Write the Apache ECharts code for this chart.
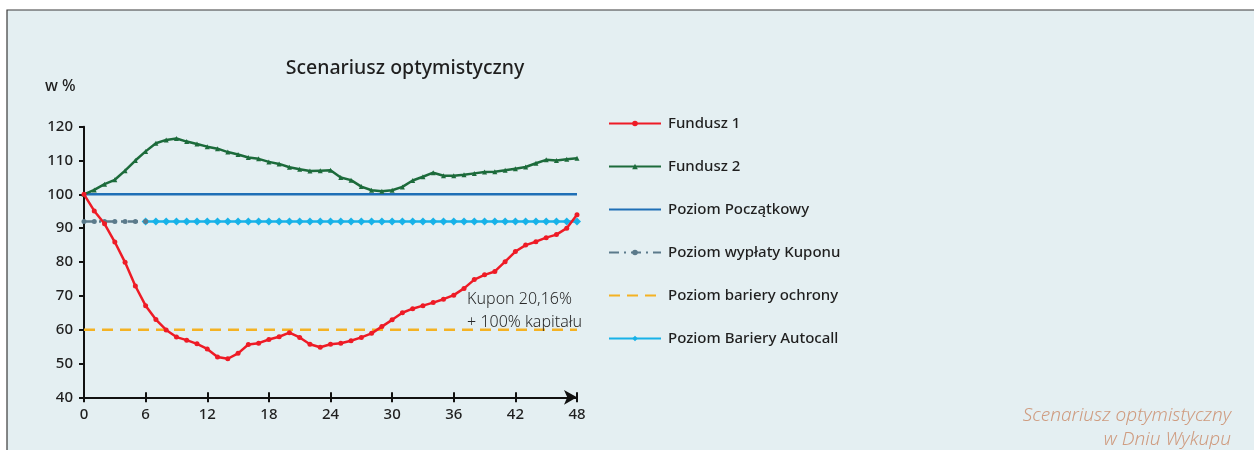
<!DOCTYPE html>
<html>
<head>
<meta charset="utf-8">
<script src="https://cdn.jsdelivr.net/npm/echarts@6/dist/echarts.min.js"></script>
<style>
html,body{margin:0;padding:0;background:#ffffff;}
#chart{width:1254px;height:450px;}
</style>
</head>
<body>
<div id="chart"></div>
<script>
const months = Array.from({length: 49}, (_, i) => i);
const xTicks = [0, 6, 12, 18, 24, 30, 36, 42, 48];
const yTicks = [40, 50, 60, 70, 80, 90, 100, 110, 120];

const fundusz1 = [100, 95.1, 91.3, 85.9, 79.9, 72.9, 67.1, 63.0, 59.9, 57.8, 56.9, 55.8, 54.3, 51.9, 51.4, 53.0,
  55.6, 56.0, 57.1, 57.9, 59.1, 57.7, 55.7, 54.8, 55.7, 56.0, 56.7, 57.7, 58.9, 60.9, 62.9, 65.0,
  66.2, 67.1, 68.0, 69.0, 70.2, 72.2, 74.8, 76.2, 77.2, 80.1, 83.1, 85.0, 86.0, 87.2, 88.1, 90.0, 94.0];
const fundusz2 = [100, 101.3, 103, 104.3, 107, 110, 112.7, 115.1, 116.1, 116.5, 115.6, 114.9, 114.1, 113.5, 112.5, 111.8,
  110.9, 110.5, 109.6, 109, 108, 107.4, 106.9, 107, 107.1, 105, 104.2, 102.3, 101.2, 100.9, 101.2, 102.2,
  104.1, 105.2, 106.4, 105.5, 105.5, 105.8, 106.2, 106.6, 106.7, 107.1, 107.6, 108.1, 109.2, 110.2, 110, 110.4, 110.7];
const poziomPoczatkowy = 100;
const poziomKuponu = 92;
const kuponEnd = 6;
const poziomOchrony = 60;
const poziomAutocall = 92;
const autocallStart = 6;

const seriesNames = ['Fundusz 1', 'Fundusz 2', 'Poziom Początkowy', 'Poziom wypłaty Kuponu', 'Poziom bariery ochrony', 'Poziom Bariery Autocall'];
const legendNoMarker = ['Poziom Początkowy', 'Poziom bariery ochrony'];
const annotation = ['Kupon 20,16%', '+ 100% kapitału'];
const annotationAt = [[37.3, 68.8], [37.3, 62.0]];
const titleText = 'Scenariusz optymistyczny';
const unitText = 'w %';
const footer = ['Scenariusz optymistyczny', 'w Dniu Wykupu'];

const pair = (arr) => arr.map((v, i) => [months[i], v]);
const constLine = (v, from, to) => months.filter(m => m >= from && m <= to).map(m => [m, v]);

const chart = echarts.init(document.getElementById('chart'), null, {renderer: 'canvas'});
const FONT = '"Noto Sans", "DejaVu Sans", sans-serif';

const option = {
  backgroundColor: '#ffffff',
  animation: false,
  title: {
    text: titleText,
    left: 400, top: 53, textAlign: 'center',
    textStyle: {fontFamily: FONT, fontSize: 19.5, fontWeight: 500, color: '#1f1f1f'}
  },
  legend: {
    orient: 'vertical',
    left: 603, top: 111,
    itemWidth: 52, itemHeight: 7, itemGap: 28,
    textStyle: {fontFamily: FONT, fontSize: 15, fontWeight: 500, color: '#1f1f1f', padding: [0, 0, 0, 2]},
    data: seriesNames.map(n => legendNoMarker.includes(n) ? {name: n, itemStyle: {opacity: 0}} : {name: n})
  },
  grid: {left: 84, right: 677, top: 126.7, bottom: 52.7, containLabel: false},
  xAxis: [{
    type: 'value', min: 0, max: 48, interval: 6,
    axisLine: {show: true, lineStyle: {color: '#111', width: 2}, symbol: ['none', 'arrow'], symbolSize: [11, 13], symbolOffset: [0, 0]},
    axisTick: {show: true, length: 5, lineStyle: {color: '#111', width: 2}},
    axisLabel: {fontFamily: FONT, fontSize: 15, fontWeight: 500, color: '#1f1f1f', margin: 10,
      formatter: v => xTicks.includes(v) ? String(v) : ''},
    splitLine: {show: false}
  }, {
    type: 'value', min: 0, max: 48, interval: 6, position: 'bottom',
    axisLine: {show: false},
    axisTick: {show: true, inside: true, length: 5, lineStyle: {color: '#111', width: 2}},
    axisLabel: {show: false},
    splitLine: {show: false}
  }],
  yAxis: {
    type: 'value', min: 40, max: 120, interval: 10,
    axisLine: {show: true, lineStyle: {color: '#111', width: 2}},
    axisTick: {show: true, length: 5, lineStyle: {color: '#111', width: 2}},
    axisLabel: {fontFamily: FONT, fontSize: 15, fontWeight: 500, color: '#1f1f1f', margin: 11,
      formatter: v => yTicks.includes(v) ? String(v) : ''},
    splitLine: {show: false}
  },
  graphic: [
    {type: 'rect', z: -10, silent: true, shape: {x: 7, y: 10, width: 1260, height: 460},
      style: {fill: '#e4eff2', stroke: '#3a3a3a', lineWidth: 1.2}},
    {type: 'text', left: 45, top: 78, style: {text: unitText, font: '500 16px ' + FONT, fill: '#1f1f1f'}},
    {type: 'text', right: 23, top: 406, style: {text: footer[0], font: 'italic 300 19px ' + FONT, fill: '#cf9c80', textAlign: 'right'}},
    {type: 'text', right: 23, top: 430, style: {text: footer[1], font: 'italic 300 19px ' + FONT, fill: '#cf9c80', textAlign: 'right'}}
  ],
  series: [
    {name: seriesNames[2], type: 'line', data: constLine(poziomPoczatkowy, 0, 48), symbol: 'none', z: 2,
      lineStyle: {color: '#1e6fb6', width: 2.5}, itemStyle: {color: '#1e6fb6'}},
    {name: seriesNames[4], type: 'line', data: constLine(poziomOchrony, 0, 48), symbol: 'none', z: 2,
      lineStyle: {color: '#f4b223', width: 2.5, type: [11, 7]}, itemStyle: {color: '#f4b223'}},
    {name: seriesNames[5], type: 'line', data: constLine(poziomAutocall, autocallStart, 48), symbol: 'diamond', symbolSize: 8, showSymbol: true, z: 3,
      lineStyle: {color: '#17b2e8', width: 2.5}, itemStyle: {color: '#17b2e8'}},
    {name: seriesNames[3], type: 'line', data: constLine(poziomKuponu, 0, kuponEnd), symbol: 'circle', symbolSize: 5, z: 3,
      lineStyle: {color: '#5b7a8b', width: 2.5, type: [10, 5, 2, 5]}, itemStyle: {color: '#5b7a8b'}},
    {name: seriesNames[1], type: 'line', data: pair(fundusz2), symbol: 'triangle', symbolSize: 5, z: 4,
      lineStyle: {color: '#1c6b3b', width: 2.5}, itemStyle: {color: '#1c6b3b'}},
    {name: seriesNames[0], type: 'line', data: pair(fundusz1), symbol: 'circle', symbolSize: 5, z: 5,
      lineStyle: {color: '#ee1b26', width: 2.5}, itemStyle: {color: '#ee1b26'}}
  ]
};
chart.setOption(option);

const annGraphics = annotation.map((t, i) => {
  const p = chart.convertToPixel({xAxisIndex: 0, yAxisIndex: 0}, annotationAt[i]);
  return {type: 'text', x: p[0], y: p[1], z: 20,
    style: {text: t, font: '300 16px ' + FONT, fill: '#2a2a2a', textVerticalAlign: 'middle'}};
});
chart.setOption({graphic: option.graphic.concat(annGraphics)});
</script>
</body>
</html>
